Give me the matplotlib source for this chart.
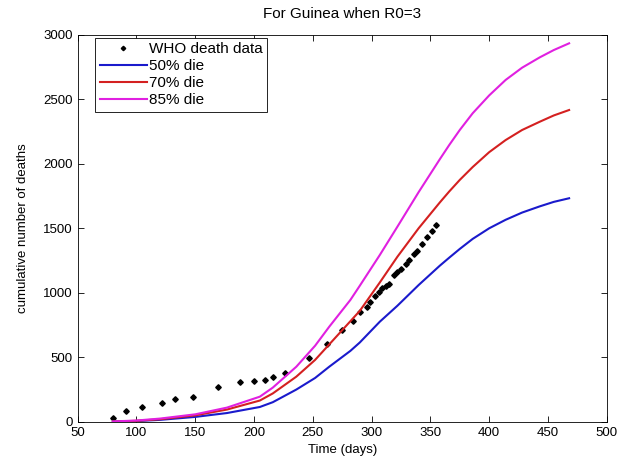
import matplotlib
matplotlib.use("Agg")
import matplotlib.pyplot as plt

# WHO cumulative deaths, Guinea
who_days = [80, 91, 105, 122, 133, 148, 169, 188, 200, 209, 216, 226, 247,
            262, 275, 284, 290, 296, 299, 303, 306, 309, 312, 315, 319, 322,
            325, 329, 332, 336, 339, 343, 347, 351, 355]
who_deaths = [32, 86, 112, 148, 174, 190, 268, 305, 315, 323, 350, 376, 497,
              603, 712, 780, 848, 892, 925, 975, 1010, 1035, 1050, 1065, 1140,
              1160, 1185, 1220, 1258, 1300, 1325, 1380, 1432, 1480, 1528]

# model curves
model_days = [80, 100, 120, 150, 177, 205, 216, 236, 252, 264, 282, 290, 307,
              322, 340, 358, 366, 375, 386, 400, 414, 428, 443, 455, 468]
die_50 = [1, 6, 15, 38, 68, 115, 152, 250, 340, 427, 550, 615, 776,
          900, 1060, 1210, 1272, 1340, 1418, 1500, 1566, 1622, 1670, 1705, 1733]
die_70 = [2, 8, 20, 50, 95, 165, 220, 350, 480, 600, 780, 860, 1080,
          1280, 1500, 1700, 1785, 1875, 1975, 2090, 2184, 2262, 2326, 2375, 2417]
die_85 = [3, 10, 25, 58, 110, 195, 265, 427, 590, 737, 945, 1055, 1293,
          1513, 1780, 2035, 2145, 2262, 2392, 2530, 2650, 2745, 2825, 2882, 2934]

x_ticks = [50, 100, 150, 200, 250, 300, 350, 400, 450, 500]
y_ticks = [0, 500, 1000, 1500, 2000, 2500, 3000]

plt.rcParams["font.family"] = ["Liberation Sans", "DejaVu Sans"]

fig = plt.figure(figsize=(6.36, 4.61), dpi=100)
ax = fig.add_axes([0.122, 0.085, 0.832, 0.8395])

ax.plot(who_days, who_deaths, linestyle="none", marker="D", markersize=2.8,
        color="black", label="WHO death data")
ax.plot(model_days, die_50, color="#1a1acc", linewidth=1.5, label="50% die")
ax.plot(model_days, die_70, color="#d42020", linewidth=1.5, label="70% die")
ax.plot(model_days, die_85, color="#e020e0", linewidth=1.5, label="85% die")

ax.set_xlim(50, 500)
ax.set_ylim(0, 3000)
ax.set_xticks(x_ticks)
ax.set_yticks(y_ticks)
ax.tick_params(direction="in", top=True, right=True, labelsize=9.5,
               length=4, width=0.6)
for s in ax.spines.values():
    s.set_linewidth(0.6)

ax.set_title("For Guinea when R0=3", fontsize=11, pad=12)
ax.set_xlabel("Time (days)", fontsize=9.5, labelpad=4)
ax.set_ylabel("cumulative number of deaths", fontsize=9.5, labelpad=10)

leg = ax.legend(loc="upper left", bbox_to_anchor=(0.033, 0.993),
                borderaxespad=0, fontsize=11, fancybox=False,
                framealpha=1, edgecolor="black", handlelength=3.1,
                labelspacing=0.2, handletextpad=0.1,
                borderpad=0.3, markerscale=0.8)
leg.get_frame().set_linewidth(0.6)

fig.savefig("out.png", dpi=100)
